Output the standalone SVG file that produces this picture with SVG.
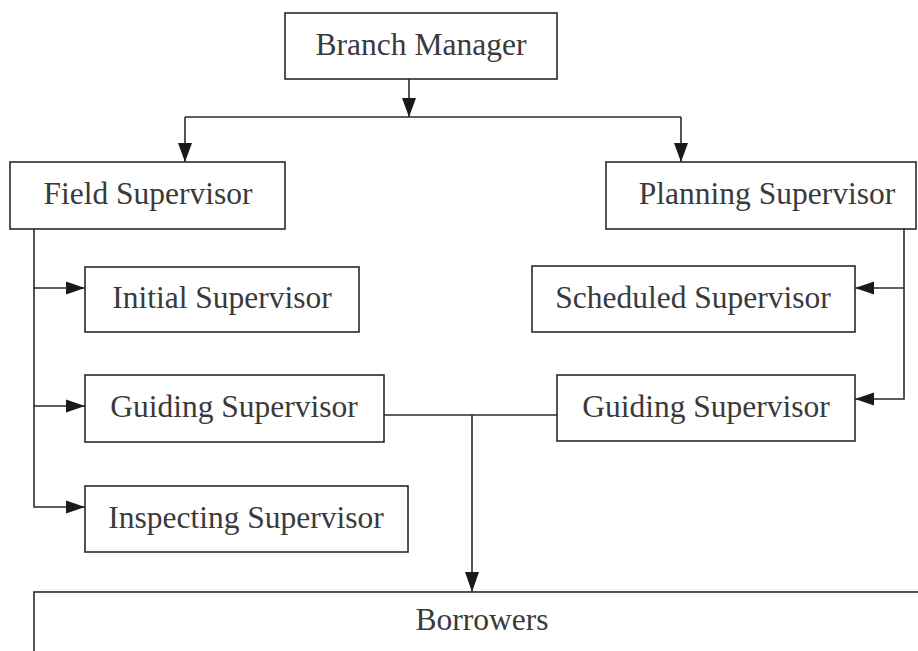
<svg xmlns="http://www.w3.org/2000/svg" width="918" height="651" viewBox="0 0 918 651">
<defs>
<style>
.box{fill:#fff;stroke:#2a2a2a;stroke-width:1.6}
.lbl{font-family:"Liberation Serif","Times New Roman",serif;font-size:31.5px;fill:#3a3a3a;text-anchor:middle}
.con{fill:none;stroke:#2a2a2a;stroke-width:1.6}
.arr{fill:#1a1a1a}
</style>
</defs>
<rect width="918" height="651" fill="#fff"/>
<g id="connectors">
<path class="con" d="M409,79 V117"/>
<path class="con" d="M185,117 H681"/>
<path class="con" d="M185,117 V162"/>
<path class="con" d="M681,117 V162"/>
<path class="con" d="M34,229 V507 H85"/>
<path class="con" d="M34,288 H85"/>
<path class="con" d="M34,406 H85"/>
<path class="con" d="M904,229 V399 H855"/>
<path class="con" d="M904,288 H855"/>
<path class="con" d="M384,415 H557"/>
<path class="con" d="M472,415 V592"/>
<polygon class="arr" points="402,98 416,98 409,117"/>
<polygon class="arr" points="178,143 192,143 185,162"/>
<polygon class="arr" points="674,143 688,143 681,162"/>
<polygon class="arr" points="66,281.5 66,294.5 85,288"/>
<polygon class="arr" points="66,399.5 66,412.5 85,406"/>
<polygon class="arr" points="66,500.5 66,513.5 85,507"/>
<polygon class="arr" points="874,281.5 874,294.5 855,288"/>
<polygon class="arr" points="874,392.5 874,405.5 855,399"/>
<polygon class="arr" points="465,572 479,572 472,592"/>
</g>
<g id="branch-manager"><rect class="box" x="285" y="13" width="272" height="66"/><text class="lbl" x="421" y="55">Branch Manager</text></g>
<g id="field-supervisor"><rect class="box" x="10" y="162" width="275" height="67"/><text class="lbl" x="148" y="204">Field Supervisor</text></g>
<g id="planning-supervisor"><rect class="box" x="606" y="162" width="310" height="67"/><text class="lbl" x="767" y="204">Planning Supervisor</text></g>
<g id="initial-supervisor"><rect class="box" x="85" y="267" width="274" height="65"/><text class="lbl" x="222" y="308">Initial Supervisor</text></g>
<g id="guiding-supervisor-left"><rect class="box" x="85" y="375" width="299" height="67"/><text class="lbl" x="234" y="417">Guiding Supervisor</text></g>
<g id="inspecting-supervisor"><rect class="box" x="85" y="486" width="323" height="66"/><text class="lbl" x="246" y="528">Inspecting Supervisor</text></g>
<g id="scheduled-supervisor"><rect class="box" x="532" y="266" width="323" height="66"/><text class="lbl" x="693" y="308">Scheduled Supervisor</text></g>
<g id="guiding-supervisor-right"><rect class="box" x="557" y="375" width="298" height="66"/><text class="lbl" x="706" y="417">Guiding Supervisor</text></g>
<g id="borrowers"><rect class="box" x="34" y="592" width="900" height="80"/><text class="lbl" x="482" y="630">Borrowers</text></g>
</svg>
